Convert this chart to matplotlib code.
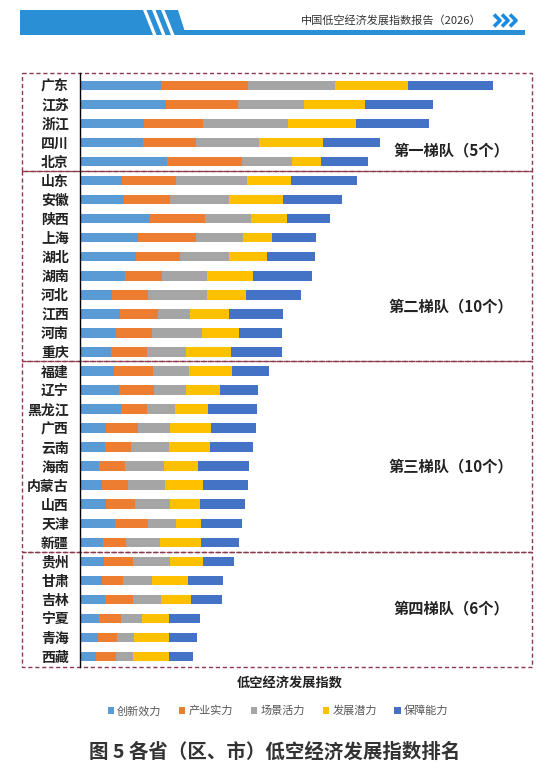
import matplotlib
matplotlib.use('Agg')
import numpy as np
import matplotlib.pyplot as plt
import matplotlib.transforms as mtransforms
from matplotlib.patches import Rectangle, Polygon

plt.rcParams['font.family'] = ['Noto Sans CJK SC', 'DejaVu Sans']

provinces = ['广东', '江苏', '浙江', '四川', '北京',
             '山东', '安徽', '陕西', '上海', '湖北', '湖南', '河北', '江西', '河南', '重庆',
             '福建', '辽宁', '黑龙江', '广西', '云南', '海南', '内蒙古', '山西', '天津', '新疆',
             '贵州', '甘肃', '吉林', '宁夏', '青海', '西藏']
innovation = [80.7, 86.0, 64.0, 63.3, 87.3,
              42.3, 44.3, 70.3, 57.7, 55.7, 45.3, 32.3, 39.7, 35.7, 31.3,
              33.7, 38.7, 40.7, 26.3, 25.3, 19.0, 22.3, 26.3, 35.0, 23.0,
              24.2, 21.8, 25.2, 18.7, 17.7, 16.3]
industry = [87.6, 71.7, 58.7, 52.7, 74.4,
            53.7, 45.4, 55.0, 58.6, 44.6, 37.0, 36.0, 38.0, 36.0, 35.4,
            39.6, 35.6, 26.6, 31.4, 26.0, 25.7, 25.7, 29.0, 33.0, 23.0,
            29.2, 20.9, 28.2, 22.7, 19.2, 19.9]
scene = [86.7, 66.6, 85.6, 62.7, 50.0,
         70.7, 59.6, 46.0, 47.0, 48.7, 44.4, 58.4, 32.3, 50.0, 39.0,
         36.0, 32.0, 27.4, 32.0, 37.7, 39.0, 36.7, 34.4, 28.0, 34.3,
         36.8, 29.3, 27.8, 20.6, 17.5, 17.2]
potential = [72.7, 60.7, 67.4, 64.0, 29.0,
             44.3, 53.7, 35.4, 28.4, 37.7, 46.0, 39.0, 39.3, 37.0, 45.0,
             43.0, 34.0, 33.0, 41.0, 40.7, 34.0, 38.3, 30.6, 25.0, 41.0,
             33.0, 36.0, 29.9, 26.5, 34.4, 35.1]
support = [85.0, 68.3, 73.3, 57.0, 47.0,
           65.7, 59.3, 43.6, 44.3, 48.0, 59.0, 55.3, 53.7, 43.6, 51.0,
           36.4, 38.0, 49.3, 45.0, 43.0, 51.3, 44.7, 45.0, 41.0, 38.0,
           30.9, 35.4, 30.6, 31.9, 28.5, 24.4]

series_names = ['创新效力', '产业实力', '场景活力', '发展潜力', '保障能力']
colors = ['#5b9bd5', '#ed7d31', '#a5a5a5', '#ffc000', '#4472c4']
tier_sizes = [5, 10, 10, 6]
tier_labels = ['第一梯队（5个）', '第二梯队（10个）', '第三梯队（10个）', '第四梯队（6个）']
tier_label_rows = [3.4, 11.6, 20.0, 27.5]

W, H = 557, 782
fig = plt.figure(figsize=(W / 100, H / 100), dpi=100)

# page header decoration
deco = fig.add_axes([0, 0, 1, 1], zorder=-1)
deco.set_xlim(0, W)
deco.set_ylim(H, 0)
deco.axis('off')
blue = '#2b8fd6'
deco.add_patch(Polygon([(20, 10), (178, 10), (186, 35), (20, 35)], color=blue, lw=0))
deco.add_patch(Rectangle((180, 29.5), 345, 5.5, color=blue, lw=0))
for x0 in [143, 152, 161]:
    deco.add_patch(Polygon([(x0, 10), (x0 + 3.5, 10), (x0 + 13.5, 35), (x0 + 10, 35)],
                           color='white', lw=0))
for cx in [494, 502, 510]:
    deco.plot([cx, cx + 6, cx], [14.5, 20.5, 26.5], color='#1a8be0', lw=2.6,
              solid_capstyle='butt')
fig.text(301 / W, 1 - 20 / H, '中国低空经济发展指数报告（2026）', fontsize=8,
         color='#333333', ha='left', va='center')

# main chart
ax = fig.add_axes([80 / W, 1 - 667 / H, 452 / W, 594 / H])
ax.patch.set_alpha(0)
y = np.arange(len(provinces))
left = np.zeros(len(provinces))
for vals, name, c in zip([innovation, industry, scene, potential, support], series_names, colors):
    ax.barh(y, vals, left=left, height=0.5, color=c, label=name)
    left += np.array(vals)

ax.set_xlim(0, 452)
ax.set_ylim(30.55, -0.65)
ax.set_yticks(y)
ax.set_yticklabels(provinces, fontsize=10, fontweight='bold', color='#222222')
ax.tick_params(axis='y', length=0, pad=8)
ax.set_xticks([])
for s in ['top', 'right', 'bottom']:
    ax.spines[s].set_visible(False)
ax.spines['left'].set_linewidth(1.0)

# tier boxes
trans = mtransforms.blended_transform_factory(fig.transFigure, ax.transData)
bounds = [-0.65] + list(np.cumsum(tier_sizes)[:-1] - 0.5) + [30.55]
for i in range(len(tier_sizes)):
    b0, b1 = bounds[i], bounds[i + 1]
    ax.add_patch(Rectangle((22 / W, b0), (532 - 22) / W, b1 - b0, transform=trans,
                           fill=False, ls=(0, (3, 2)), ec='#8b3a4e', lw=1, clip_on=False))
    ax.text(371, tier_label_rows[i], tier_labels[i], ha='center', va='center',
            fontsize=11, fontweight='bold', color='#222222')

fig.text(290 / W, 1 - 684 / H, '低空经济发展指数', ha='center', va='center',
         fontsize=9.5, fontweight='bold', color='#222222')

handles, labels = ax.get_legend_handles_labels()
fig.legend(handles, labels, loc='center', bbox_to_anchor=(278 / W, 1 - 711 / H), ncol=5,
           frameon=False, fontsize=8, handlelength=0.55, handleheight=0.55,
           handletextpad=0.3, columnspacing=1.6, labelcolor='#555555')

fig.text(275 / W, 1 - 752 / H, '图 5 各省（区、市）低空经济发展指数排名', ha='center',
         va='center', fontsize=14, fontweight='bold', color='#333333')

fig.savefig('out.png', dpi=100)
